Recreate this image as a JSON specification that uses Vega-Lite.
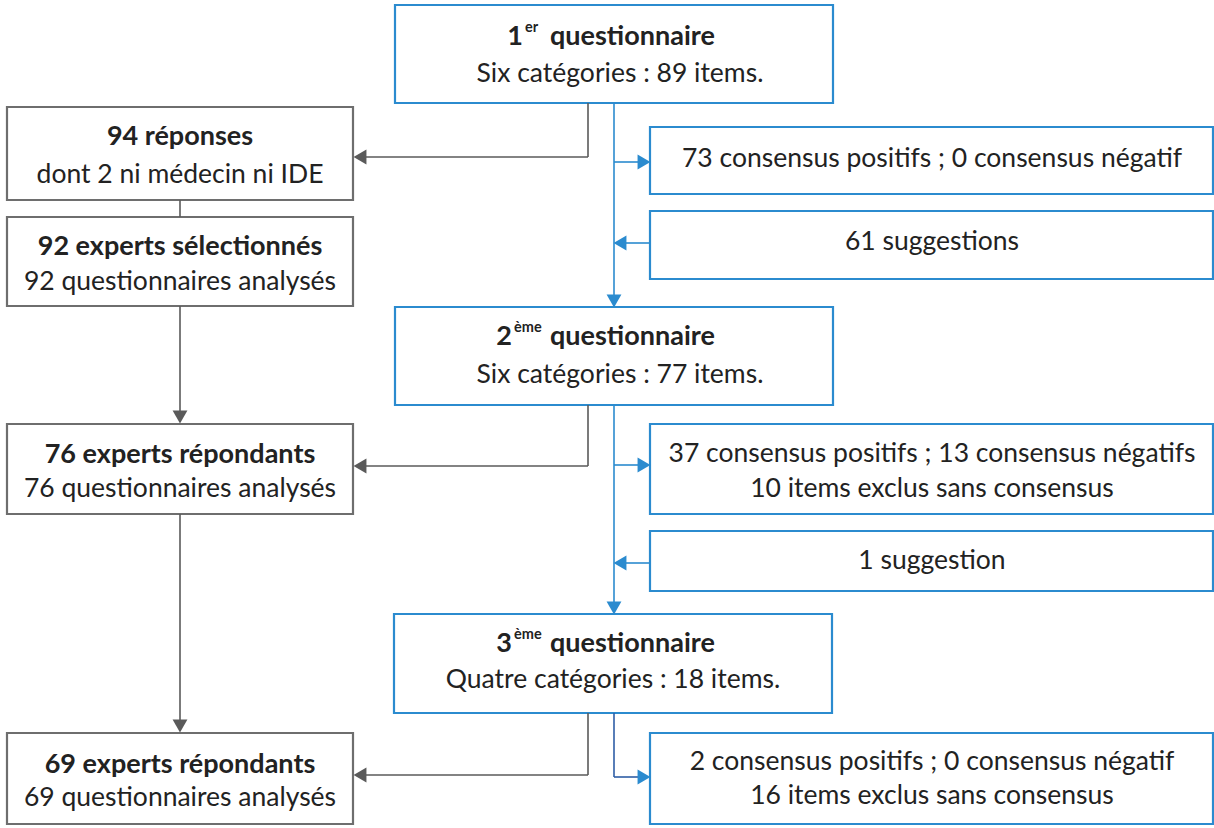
{
  "$schema": "https://vega.github.io/schema/vega-lite/v6.json",
  "width": 1214,
  "height": 828,
  "padding": 0,
  "autosize": "none",
  "background": "white",
  "config": {"view": {"stroke": null}},
  "datasets": {
    "boxes": [
      {"id": "q1", "x1": 395, "x2": 833, "y1": 5, "y2": 103, "c": "blue"},
      {"id": "r94", "x1": 7, "x2": 353, "y1": 107, "y2": 200, "c": "gray"},
      {"id": "e92", "x1": 7, "x2": 353, "y1": 217, "y2": 306, "c": "gray"},
      {"id": "c73", "x1": 650, "x2": 1213, "y1": 127, "y2": 194, "c": "blue"},
      {"id": "s61", "x1": 650, "x2": 1213, "y1": 211, "y2": 279, "c": "blue"},
      {"id": "q2", "x1": 395, "x2": 833, "y1": 307, "y2": 405, "c": "blue"},
      {"id": "e76", "x1": 7, "x2": 353, "y1": 424, "y2": 514, "c": "gray"},
      {"id": "c37", "x1": 650, "x2": 1213, "y1": 424, "y2": 514, "c": "blue"},
      {"id": "s1", "x1": 650, "x2": 1213, "y1": 531, "y2": 591, "c": "blue"},
      {"id": "q3", "x1": 394, "x2": 832, "y1": 614, "y2": 713, "c": "blue"},
      {"id": "e69", "x1": 7, "x2": 353, "y1": 733, "y2": 824, "c": "gray"},
      {"id": "c2", "x1": 650, "x2": 1213, "y1": 733, "y2": 824, "c": "blue"}
    ],
    "segs": [
      {"x1": 588, "y1": 103, "x2": 588, "y2": 157, "c": "gray"},
      {"x1": 588, "y1": 157, "x2": 356, "y2": 157, "c": "gray"},
      {"x1": 180, "y1": 200, "x2": 180, "y2": 217, "c": "gray"},
      {"x1": 180, "y1": 306, "x2": 180, "y2": 412, "c": "gray"},
      {"x1": 588, "y1": 405, "x2": 588, "y2": 466, "c": "gray"},
      {"x1": 588, "y1": 466, "x2": 356, "y2": 466, "c": "gray"},
      {"x1": 180, "y1": 514, "x2": 180, "y2": 721, "c": "gray"},
      {"x1": 588, "y1": 713, "x2": 588, "y2": 775, "c": "gray"},
      {"x1": 588, "y1": 775, "x2": 356, "y2": 775, "c": "gray"},
      {"x1": 614, "y1": 103, "x2": 614, "y2": 297, "c": "blue"},
      {"x1": 614, "y1": 162, "x2": 640, "y2": 162, "c": "blue"},
      {"x1": 650, "y1": 243, "x2": 622, "y2": 243, "c": "blue"},
      {"x1": 614, "y1": 405, "x2": 614, "y2": 604, "c": "blue"},
      {"x1": 614, "y1": 465, "x2": 640, "y2": 465, "c": "blue"},
      {"x1": 650, "y1": 563, "x2": 622, "y2": 563, "c": "blue"},
      {"x1": 614, "y1": 713, "x2": 614, "y2": 777, "c": "navy"},
      {"x1": 614, "y1": 777, "x2": 640, "y2": 777, "c": "navy"}
    ],
    "arrows": [
      {"x": 360, "y": 157, "dir": "left", "c": "gray"},
      {"x": 360, "y": 466, "dir": "left", "c": "gray"},
      {"x": 360, "y": 775, "dir": "left", "c": "gray"},
      {"x": 180, "y": 417, "dir": "down", "c": "gray"},
      {"x": 180, "y": 726, "dir": "down", "c": "gray"},
      {"x": 614, "y": 301, "dir": "down", "c": "blue"},
      {"x": 614, "y": 608, "dir": "down", "c": "blue"},
      {"x": 644, "y": 162, "dir": "right", "c": "blue"},
      {"x": 644, "y": 465, "dir": "right", "c": "blue"},
      {"x": 644, "y": 777, "dir": "right", "c": "blue"},
      {"x": 620, "y": 243, "dir": "left", "c": "blue"},
      {"x": 620, "y": 563, "dir": "left", "c": "blue"}
    ],
    "texts": [
      {"t": "1", "x": 523, "y": 45, "k": "num"},
      {"t": "er", "x": 525, "y": 32, "k": "sup"},
      {"t": "questionnaire", "x": 550, "y": 45, "k": "ql"},
      {"t": "Six catégories : 89 items.", "x": 620, "y": 82, "k": "n"},
      {"t": "94 réponses", "x": 180, "y": 145, "k": "b"},
      {"t": "dont 2 ni médecin ni IDE", "x": 180, "y": 183, "k": "n"},
      {"t": "92 experts sélectionnés", "x": 180, "y": 255, "k": "b"},
      {"t": "92 questionnaires analysés", "x": 180, "y": 290, "k": "n"},
      {"t": "73 consensus positifs ; 0 consensus négatif", "x": 932, "y": 167, "k": "n"},
      {"t": "61 suggestions", "x": 932, "y": 250, "k": "n"},
      {"t": "2", "x": 512, "y": 345, "k": "num"},
      {"t": "ème", "x": 514, "y": 332, "k": "sup"},
      {"t": "questionnaire", "x": 550, "y": 345, "k": "ql"},
      {"t": "Six catégories : 77 items.", "x": 620, "y": 383, "k": "n"},
      {"t": "76 experts répondants", "x": 180, "y": 463, "k": "b"},
      {"t": "76 questionnaires analysés", "x": 180, "y": 497, "k": "n"},
      {"t": "37 consensus positifs ; 13 consensus négatifs", "x": 932, "y": 462, "k": "n"},
      {"t": "10 items exclus sans consensus", "x": 932, "y": 497, "k": "n"},
      {"t": "1 suggestion", "x": 932, "y": 569, "k": "n"},
      {"t": "3", "x": 512, "y": 652, "k": "num"},
      {"t": "ème", "x": 514, "y": 639, "k": "sup"},
      {"t": "questionnaire", "x": 550, "y": 652, "k": "ql"},
      {"t": "Quatre catégories : 18 items.", "x": 613, "y": 688, "k": "n"},
      {"t": "69 experts répondants", "x": 180, "y": 773, "k": "b"},
      {"t": "69 questionnaires analysés", "x": 180, "y": 806, "k": "n"},
      {"t": "2 consensus positifs ; 0 consensus négatif", "x": 932, "y": 770, "k": "n"},
      {"t": "16 items exclus sans consensus", "x": 932, "y": 804, "k": "n"}
    ]
  },
  "layer": [
    {
      "data": {"name": "boxes"},
      "mark": {"type": "rect", "fill": "white", "strokeWidth": 2.2},
      "encoding": {
        "x": {"field": "x1", "type": "quantitative", "scale": {"domain": [0, 1214], "nice": false, "zero": false}, "axis": null},
        "x2": {"field": "x2"},
        "y": {"field": "y1", "type": "quantitative", "scale": {"domain": [0, 828], "nice": false, "zero": false, "reverse": true}, "axis": null},
        "y2": {"field": "y2"},
        "stroke": {"field": "c", "type": "nominal", "scale": {"domain": ["gray", "blue", "navy"], "range": ["#6e6e6e", "#2b8bcf", "#2f5ea6"]}, "legend": null}
      }
    },
    {
      "data": {"name": "segs"},
      "mark": {"type": "rule", "strokeWidth": 1.6},
      "encoding": {
        "x": {"field": "x1", "type": "quantitative", "scale": {"domain": [0, 1214], "nice": false, "zero": false}, "axis": null},
        "x2": {"field": "x2"},
        "y": {"field": "y1", "type": "quantitative", "scale": {"domain": [0, 828], "nice": false, "zero": false, "reverse": true}, "axis": null},
        "y2": {"field": "y2"},
        "color": {"field": "c", "type": "nominal", "scale": {"domain": ["gray", "blue", "navy"], "range": ["#5a5a5a", "#2b8bcf", "#2f5ea6"]}, "legend": null}
      }
    },
    {
      "data": {"name": "arrows"},
      "mark": {"type": "point", "filled": true, "opacity": 1, "size": 220, "strokeWidth": 0},
      "encoding": {
        "x": {"field": "x", "type": "quantitative", "scale": {"domain": [0, 1214], "nice": false, "zero": false}, "axis": null},
        "y": {"field": "y", "type": "quantitative", "scale": {"domain": [0, 828], "nice": false, "zero": false, "reverse": true}, "axis": null},
        "shape": {"field": "dir", "type": "nominal", "scale": {"domain": ["left", "right", "down"], "range": ["triangle-left", "triangle-right", "triangle-down"]}, "legend": null},
        "color": {"field": "c", "type": "nominal", "scale": {"domain": ["gray", "blue", "navy"], "range": ["#5a5a5a", "#2b8bcf", "#2f5ea6"]}, "legend": null}
      }
    },
    {
      "data": {"name": "texts"},
      "transform": [{"filter": "datum.k == 'n'"}],
      "mark": {"type": "text", "font": "Lato", "fontSize": 26.5, "align": "center", "baseline": "alphabetic", "color": "#222222"},
      "encoding": {
        "x": {"field": "x", "type": "quantitative", "scale": {"domain": [0, 1214], "nice": false, "zero": false}, "axis": null},
        "y": {"field": "y", "type": "quantitative", "scale": {"domain": [0, 828], "nice": false, "zero": false, "reverse": true}, "axis": null},
        "text": {"field": "t"}
      }
    },
    {
      "data": {"name": "texts"},
      "transform": [{"filter": "datum.k == 'b'"}],
      "mark": {"type": "text", "font": "Lato", "fontWeight": "bold", "fontSize": 27, "align": "center", "baseline": "alphabetic", "color": "#222222"},
      "encoding": {
        "x": {"field": "x", "type": "quantitative", "scale": {"domain": [0, 1214], "nice": false, "zero": false}, "axis": null},
        "y": {"field": "y", "type": "quantitative", "scale": {"domain": [0, 828], "nice": false, "zero": false, "reverse": true}, "axis": null},
        "text": {"field": "t"}
      }
    },
    {
      "data": {"name": "texts"},
      "transform": [{"filter": "datum.k == 'num'"}],
      "mark": {"type": "text", "font": "Lato", "fontWeight": "bold", "fontSize": 27, "align": "right", "baseline": "alphabetic", "color": "#222222"},
      "encoding": {
        "x": {"field": "x", "type": "quantitative", "scale": {"domain": [0, 1214], "nice": false, "zero": false}, "axis": null},
        "y": {"field": "y", "type": "quantitative", "scale": {"domain": [0, 828], "nice": false, "zero": false, "reverse": true}, "axis": null},
        "text": {"field": "t"}
      }
    },
    {
      "data": {"name": "texts"},
      "transform": [{"filter": "datum.k == 'ql'"}],
      "mark": {"type": "text", "font": "Lato", "fontWeight": "bold", "fontSize": 27, "align": "left", "baseline": "alphabetic", "color": "#222222"},
      "encoding": {
        "x": {"field": "x", "type": "quantitative", "scale": {"domain": [0, 1214], "nice": false, "zero": false}, "axis": null},
        "y": {"field": "y", "type": "quantitative", "scale": {"domain": [0, 828], "nice": false, "zero": false, "reverse": true}, "axis": null},
        "text": {"field": "t"}
      }
    },
    {
      "data": {"name": "texts"},
      "transform": [{"filter": "datum.k == 'sup'"}],
      "mark": {"type": "text", "font": "Lato", "fontWeight": "bold", "fontSize": 14.5, "align": "left", "baseline": "alphabetic", "color": "#222222"},
      "encoding": {
        "x": {"field": "x", "type": "quantitative", "scale": {"domain": [0, 1214], "nice": false, "zero": false}, "axis": null},
        "y": {"field": "y", "type": "quantitative", "scale": {"domain": [0, 828], "nice": false, "zero": false, "reverse": true}, "axis": null},
        "text": {"field": "t"}
      }
    }
  ]
}
